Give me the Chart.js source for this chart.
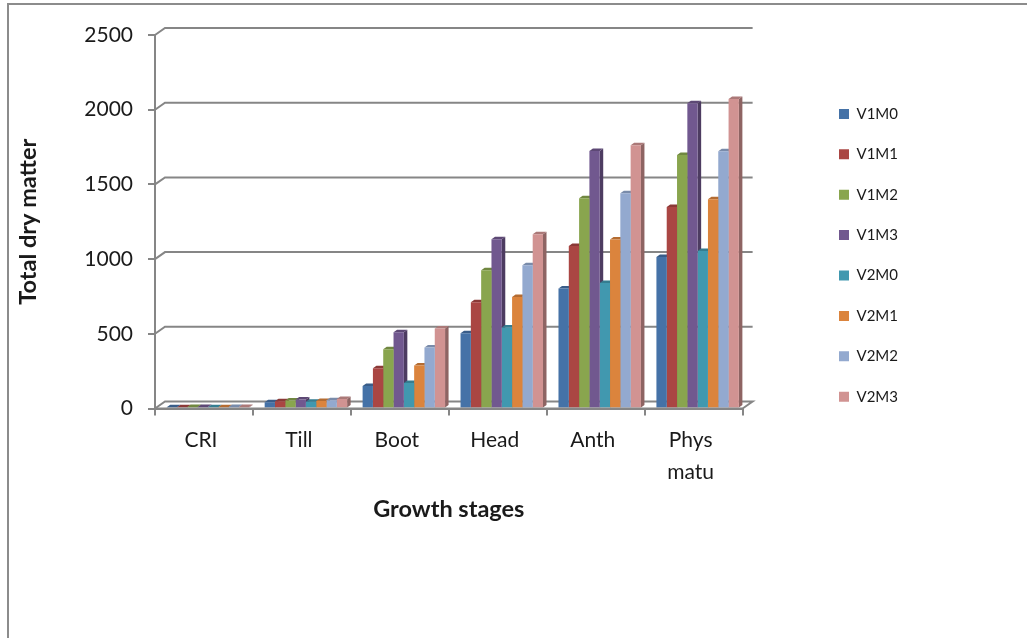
<!DOCTYPE html>
<html>
<head>
<meta charset="utf-8">
<title>Total dry matter</title>
<script src="https://cdn.jsdelivr.net/npm/chart.js@4"></script>
<style>
    html, body { margin: 0; padding: 0; background: #fff; overflow: hidden; }
    #wrap { position: relative; width: 1027px; height: 638px; }
    #frame { position: absolute; left: 7px; top: 3px; right: 0; bottom: 0; border-top: 2px solid #8c8c8c; border-left: 2px solid #8c8c8c; }
    canvas { position: absolute; left: 0; top: 0; }
</style>
</head>
<body>
<div id="wrap">
    <div id="frame"></div>
    <canvas id="chart" width="1027" height="638"></canvas>
</div>
<script>
const categories = ['CRI', 'Till', 'Boot', 'Head', 'Anth', ['Phys', 'matu']];
const yTicks = [0, 500, 1000, 1500, 2000, 2500];

const V1M0 = [9, 42, 150, 503, 804, 1014];
const V1M1 = [9, 48, 270, 712, 1088, 1349];
const V1M2 = [10, 54, 396, 925, 1407, 1696];
const V1M3 = [10, 60, 511, 1133, 1724, 2044];
const V2M0 = [9, 46, 170, 543, 840, 1054];
const V2M1 = [9, 50, 288, 746, 1132, 1400];
const V2M2 = [10, 56, 409, 958, 1440, 1722];
const V2M3 = [10, 64, 536, 1166, 1762, 2071];

const seriesNames = ['V1M0', 'V1M1', 'V1M2', 'V1M3', 'V2M0', 'V2M1', 'V2M2', 'V2M3'];
const seriesValues = [V1M0, V1M1, V1M2, V1M3, V2M0, V2M1, V2M2, V2M3];
const seriesColors = ['#4572A7', '#AA4643', '#89A54E', '#71588F', '#4198AF', '#DB843D', '#93A9CF', '#D19392'];

const axisColor = '#868686';
const textColor = '#1a1a1a';
const fontName = 'Lato, sans-serif';

function shade(hex, k) {
    const n = parseInt(hex.slice(1), 16);
    const r = Math.round((n >> 16) * k);
    const g = Math.round(((n >> 8) & 255) * k);
    const b = Math.round((n & 255) * k);
    return `rgb(${r},${g},${b})`;
}

// back wall and floor of the old 3D column look
const wallPlugin = {
    id: 'wall',
    afterDatasetsUpdate(chart) {
        // the 3D bars sit a bit right of the band centre
        chart.getSortedVisibleDatasetMetas().forEach(meta => {
            meta.data.forEach(el => { el.x += 4; });
        });
    },
    afterLayout(chart) {
        const legend = chart.legend;
        const w = legend.right - legend.left;
        const h = legend.bottom - legend.top;
        legend.left = 839 - legend.options.labels.padding;
        legend.right = legend.left + w;
        legend.top = 81;
        legend.bottom = legend.top + h;
    },
    beforeDatasetsDraw(chart) {
        const ctx = chart.ctx;
        const xs = chart.scales.x;
        const ys = chart.scales.y;
        const dx = 10, dy = 7;
        ctx.save();
        ctx.strokeStyle = axisColor;
        ctx.lineWidth = 2;
        yTicks.forEach(v => {
            const y = ys.getPixelForValue(v);
            ctx.beginPath();
            ctx.moveTo(xs.left, y);
            ctx.lineTo(xs.left + dx, y - dy);
            ctx.lineTo(xs.right + dx, y - dy);
            if (v === 0) ctx.lineTo(xs.right, y);
            ctx.stroke();
        });
        ctx.restore();

        // side and top faces, the front faces are the real bars on top of them
        const bx = 3.5, by = 2.5;
        const metas = chart.getSortedVisibleDatasetMetas();
        categories.forEach((c, i) => {
            metas.forEach(meta => {
                const el = meta.data[i];
                const color = seriesColors[meta.index];
                const l = el.x - el.width / 2;
                const r = el.x + el.width / 2;
                ctx.fillStyle = shade(color, 0.68);
                ctx.beginPath();
                ctx.moveTo(r, el.y);
                ctx.lineTo(r + bx, el.y - by);
                ctx.lineTo(r + bx, el.base - by);
                ctx.lineTo(r, el.base);
                ctx.closePath();
                ctx.fill();
                ctx.fillStyle = shade(color, 0.82);
                ctx.beginPath();
                ctx.moveTo(l, el.y);
                ctx.lineTo(l + bx, el.y - by);
                ctx.lineTo(r + bx, el.y - by);
                ctx.lineTo(r, el.y);
                ctx.closePath();
                ctx.fill();
            });
        });
    },
    afterDatasetsDraw(chart) {
        const ctx = chart.ctx;
        const xs = chart.scales.x;
        const ys = chart.scales.y;
        ctx.save();
        ctx.strokeStyle = axisColor;
        ctx.lineWidth = 2;
        ctx.beginPath();
        ctx.moveTo(xs.left, ys.bottom);
        ctx.lineTo(xs.right, ys.bottom);
        ctx.stroke();
        ctx.restore();
    }
};

new Chart(document.getElementById('chart'), {
    type: 'bar',
    data: {
        labels: categories,
        datasets: seriesNames.map((name, i) => ({
            label: name,
            data: seriesValues[i],
            backgroundColor: seriesColors[i],
            borderWidth: 0
        }))
    },
    options: {
        responsive: false,
        animation: false,
        layout: { padding: { left: 0, top: 35, right: 190, bottom: 114 } },
        datasets: { bar: { categoryPercentage: 0.842, barPercentage: 1 } },
        plugins: {
            tooltip: { enabled: false },
            legend: {
                position: 'right',
                align: 'start',
                labels: {
                    boxWidth: 10,
                    boxHeight: 10,
                    padding: 25.4,
                    color: textColor,
                    font: { family: fontName, size: 15 }
                }
            }
        },
        scales: {
            x: {
                afterFit(scale) { scale.height = 115.5; },
                grid: { drawOnChartArea: false, color: axisColor, lineWidth: 2, tickLength: 7 },
                border: { color: axisColor, width: 2 },
                ticks: {
                    color: textColor,
                    font: { family: fontName, size: 21, lineHeight: 1.5 },
                    labelOffset: -3,
                    padding: 9,
                    maxRotation: 0,
                    autoSkip: false
                },
                title: {
                    display: true,
                    text: 'Growth stages',
                    color: textColor,
                    font: { family: fontName, size: 23.5, weight: 'bold' },
                    padding: 0
                }
            },
            y: {
                min: 0,
                max: 2500,
                afterFit(scale) { scale.width = 155; },
                afterBuildTicks(scale) { scale.ticks = yTicks.map(v => ({ value: v })); },
                grid: { drawOnChartArea: false, color: axisColor, lineWidth: 2, tickLength: 7 },
                border: { color: axisColor, width: 2 },
                ticks: {
                    color: textColor,
                    font: { family: fontName, size: 21 },
                    padding: 15,
                    callback: value => String(value)
                },
                title: {
                    display: true,
                    text: 'Total dry matter',
                    color: textColor,
                    font: { family: fontName, size: 23.5, weight: 'bold' },
                    padding: { top: 14, bottom: 0 }
                }
            }
        }
    },
    plugins: [wallPlugin]
});
</script>
</body>
</html>
